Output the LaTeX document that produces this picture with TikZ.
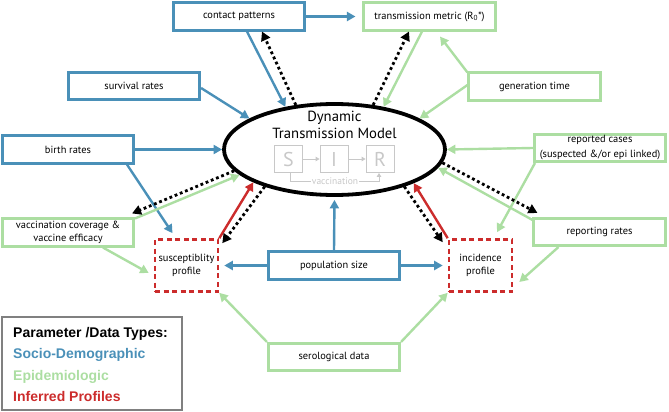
\documentclass[tikz,border=0pt]{standalone}
\usepackage{fontspec}
\setmainfont{PT Sans}
\newfontfamily\legendfont{Liberation Sans}
\usetikzlibrary{arrows.meta,shapes.geometric}
\definecolor{sociob}{RGB}{74,144,184}
\definecolor{epig}{RGB}{172,222,162}
\definecolor{infr}{RGB}{204,44,44}
\definecolor{sirgray}{RGB}{200,200,200}

\begin{document}
\begin{tikzpicture}[x=1pt,y=-1pt,
  sdbox/.style={draw=sociob,line width=2.6pt,fill=white,minimum width=131.5pt,minimum height=27.5pt,inner sep=0.5pt,align=center,font=\fontsize{10.4}{12.5}\selectfont},
  epbox/.style={sdbox,draw=epig},
  ifbox/.style={draw=infr,line width=2.6pt,dash pattern=on 5pt off 3.5pt,minimum width=63pt,minimum height=52pt,inner sep=1pt,align=center,font=\fontsize{10.4}{13}\selectfont},
  sdarrow/.style={sociob,line width=2.4pt,-{Triangle[length=8.5pt,width=9pt]}},
  eparrow/.style={sdarrow,epig},
  ifarrow/.style={sdarrow,infr},
  dotarrow/.style={black,line width=2.8pt,dash pattern=on 2.8pt off 2.8pt,-{Triangle[length=9pt,width=9.5pt]}},
  sirbox/.style={draw=sirgray,line width=0.9pt,minimum width=28pt,minimum height=27pt,inner sep=0pt,text=sirgray,font=\fontsize{20}{20}\selectfont},
  sirarrow/.style={sirgray,line width=0.9pt,-{Triangle[length=4pt,width=4.5pt]}}]

\useasboundingbox (0,0) rectangle (669,412);

\node[draw,ellipse,line width=3.8pt,minimum width=221pt,minimum height=91pt,inner sep=0pt] (dtm) at (334.5,149.5) {};
\node[font=\fontsize{14.7}{17}\selectfont,align=center] (title) at (334.5,125) {Dynamic\\Transmission Model};
\node[sirbox] (s) at (288.5,159) {S};
\node[sirbox] (i) at (334,159) {I};
\node[sirbox] (r) at (380,159) {R};
\node[fill=white,inner sep=1pt,text=sirgray,font=\fontsize{9.5}{9.5}\selectfont] (vac) at (335,181) {vaccination};
\draw[sirarrow] (s) -- (i);
\draw[sirarrow] (i) -- (r);
\draw[sirgray,line width=0.9pt] ([xshift=1.5pt]s.south) |- (vac.west);
\draw[sirarrow] (vac.east) -| ([xshift=-1pt]r.south);

\node[sdbox] (cp) at (239,16.5) {contact patterns};
\node[epbox] (tm) at (429.5,16.5) {transmission metric (R\textsubscript{0}*)};
\node[sdbox] (sr) at (134,86) {survival rates};
\node[epbox] (gt) at (534.5,86.5) {generation time};
\node[sdbox] (br) at (68,149.5) {birth rates};
\node[epbox] (rc) at (600,148) {reported cases\\[2.5pt](suspected \&/or epi linked)};
\node[epbox] (vc) at (68,232.5) {vaccination coverage \&\\vaccine efficacy};
\node[ifbox] (sp) at (186.5,265.5) {susceptiblity\\profile};
\node[sdbox] (ps) at (334,265.5) {population size};
\node[ifbox] (ip) at (480.5,265.5) {incidence\\profile};
\node[epbox] (rr) at (599.5,232) {reporting rates};
\node[epbox] (sd) at (334,357) {serological data};

\draw[sdarrow] ([xshift=8pt]cp.south) -- (dtm.139.5);
\draw[sdarrow] (cp.east) -- ([xshift=-7pt]tm.west);
\draw[sdarrow] ([yshift=-2pt]sr.east) -- (dtm.160);
\draw[sdarrow] (br.east) -- (dtm.180);
\draw[sdarrow] ([xshift=59pt]br.south) -- ([xshift=-14pt,yshift=5pt]sp.north);
\draw[sdarrow] (ps.west) -- ([xshift=5pt]sp.east);
\draw[sdarrow] (ps.east) -- ([xshift=-5pt]ip.west);
\draw[sdarrow,shorten >=3pt] (ps.north) -- (dtm.south);

\draw[eparrow] ([xshift=-7.5pt]tm.south) -- (dtm.41);
\draw[eparrow] ([yshift=-1pt]gt.north west) -- ([xshift=10.5pt,yshift=-5pt]tm.south);
\draw[eparrow] ([yshift=1.5pt]gt.west) -- (dtm.20);
\draw[eparrow] (rc.west) -- (dtm.east);
\draw[eparrow] ([yshift=-3pt]rr.north west) -- (dtm.-10);
\draw[eparrow] ([xshift=2pt]rc.south west) -- ([xshift=16.5pt,yshift=6pt]ip.north);
\draw[eparrow] ([xshift=26pt]rr.south west) -- ([xshift=6pt,yshift=-16.5pt]ip.east);
\draw[eparrow] ([yshift=-1pt]vc.north east) -- (dtm.195);
\draw[eparrow] ([xshift=35pt]vc.south) -- ([xshift=-5pt,yshift=-7.5pt]sp.west);
\draw[eparrow] (sd.north west) -- (sp.south east);
\draw[eparrow] (sd.north east) -- (ip.south west);

\draw[ifarrow] (sp.north east) -- (dtm.202);
\draw[ifarrow] (ip.north west) -- (dtm.-23);

\draw[dotarrow] (dtm.131) -- ([xshift=23pt]cp.south);
\draw[dotarrow] (dtm.49) -- ([xshift=-20.5pt]tm.south);
\draw[dotarrow] (dtm.192) -- ([xshift=-3pt,yshift=4pt]vc.north east);
\draw[dotarrow] (dtm.208) -- ([xshift=3pt,yshift=-5pt]sp.north east);
\draw[dotarrow] (dtm.-28) -- ([xshift=-5pt,yshift=-4pt]ip.north west);
\draw[dotarrow] (dtm.-7) -- ([xshift=5pt,yshift=4pt]rr.north west);

\node[draw=gray,line width=1.2pt,minimum width=180pt,minimum height=93pt] (leg) at (92,363.5) {};
\node[anchor=base west,inner sep=0pt,font=\legendfont\bfseries\fontsize{14}{14}\selectfont] (legtitle) at (13,337.5) {Parameter /Data Types:};
\node[anchor=base west,inner sep=0pt,text=sociob,font=\legendfont\bfseries\fontsize{14}{14}\selectfont] (legsd) at (13,358.5) {Socio-Demographic};
\node[anchor=base west,inner sep=0pt,text=epig,font=\legendfont\bfseries\fontsize{14}{14}\selectfont] (legep) at (13,380) {Epidemiologic};
\node[anchor=base west,inner sep=0pt,text=infr,font=\legendfont\bfseries\fontsize{14}{14}\selectfont] (legif) at (13,401) {Inferred Profiles};

\end{tikzpicture}
\end{document}
